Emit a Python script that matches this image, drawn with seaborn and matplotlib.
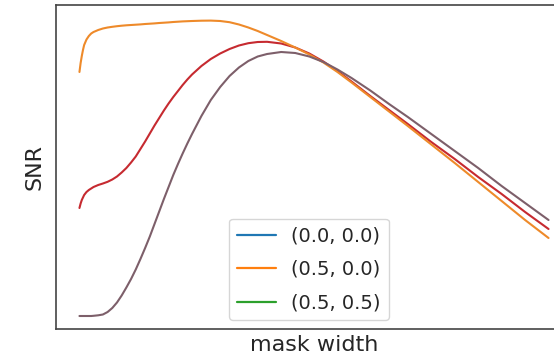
import numpy as np
import pandas as pd
import matplotlib
matplotlib.use("Agg")
import matplotlib.pyplot as plt
from matplotlib.lines import Line2D
import seaborn as sns

# mask width samples shared by all settings
mask_width = [0, 0.25, 0.5, 0.75, 1, 1.5, 2, 2.5, 3,
              4, 5, 6, 7, 8, 9, 10, 11, 12, 13, 14, 15, 16, 17, 18, 19, 20, 21, 22, 23, 24,
              26, 28, 30, 32, 34, 36, 38, 40,
              43, 46, 49, 52, 55, 58,
              62, 66, 70,
              75, 80, 85, 90, 95, 100]

settings = ["(0.0, 0.0)", "(0.5, 0.0)", "(0.5, 0.5)"]

snr_00 = [12.1, 12.55, 12.9, 13.15, 13.4, 13.7, 13.9, 14.05, 14.2,
          14.4, 14.55, 14.72, 14.95, 15.25, 15.65, 16.1, 16.65, 17.25, 18.0, 18.75,
          19.55, 20.35, 21.1, 21.85, 22.55, 23.2, 23.8, 24.4, 24.95, 25.45,
          26.3, 27.0, 27.55, 28.0, 28.35, 28.58, 28.7, 28.72,
          28.55, 28.15, 27.55, 26.75, 25.8, 24.75,
          23.3, 21.9, 20.5,
          18.7, 17.0, 15.2, 13.5, 11.7, 10.0]
snr_50 = [25.7, 26.6, 27.3, 27.9, 28.4, 28.95, 29.3, 29.55, 29.7,
          29.9, 30.05, 30.15, 30.22, 30.28, 30.33, 30.37, 30.4, 30.43, 30.46, 30.5,
          30.53, 30.56, 30.6, 30.63, 30.66, 30.7, 30.73, 30.76, 30.78, 30.8,
          30.83, 30.84, 30.8, 30.68, 30.45, 30.15, 29.8, 29.4,
          28.8, 28.15, 27.45, 26.65, 25.7, 24.65,
          23.2, 21.75, 20.3,
          18.45, 16.6, 14.7, 12.8, 10.9, 9.1]
snr_55 = [1.3, 1.3, 1.3, 1.3, 1.3, 1.3, 1.3, 1.3, 1.32,
          1.37, 1.45, 1.7, 2.1, 2.65, 3.35, 4.15, 5.0, 5.95, 7.0, 8.1,
          9.25, 10.5, 11.75, 13.0, 14.2, 15.4, 16.5, 17.55, 18.55, 19.5,
          21.3, 22.9, 24.2, 25.3, 26.15, 26.8, 27.25, 27.5,
          27.7, 27.6, 27.25, 26.7, 25.95, 25.1,
          23.85, 22.5, 21.2,
          19.5, 17.8, 16.1, 14.3, 12.6, 10.9]

df = pd.DataFrame({
    "mask width": mask_width * 3,
    "SNR": snr_00 + snr_50 + snr_55,
    "setting": np.repeat(settings, len(mask_width)),
})

curve_colors = {"(0.0, 0.0)": "#c62a30", "(0.5, 0.0)": "#ee8a2a", "(0.5, 0.5)": "#7d5f6a"}
legend_colors = ["#1f77b4", "#ff7f0e", "#2ca02c"]

sns.set_style("white")
plt.rcParams["font.family"] = ["DejaVu Sans"]

fig = plt.figure(figsize=(5.54, 3.61), dpi=100)
ax = fig.add_axes([56 / 554, (361 - 329) / 361, (572 - 56) / 554, (329 - 5) / 361])

sns.lineplot(data=df, x="mask width", y="SNR", hue="setting", hue_order=settings,
             palette=curve_colors, linewidth=1.5, legend=False, ax=ax, sort=False)

ax.set_xlim(-5, 105)
ax.set_ylim(0, 32.4)
ax.set_xticks([])
ax.set_yticks([])
ax.set_xlabel("mask width", fontsize=16, labelpad=4)
ax.set_ylabel("SNR", fontsize=16, labelpad=8)
for sp in ax.spines.values():
    sp.set_color("#444444")
    sp.set_linewidth(1.2)

handles = [Line2D([], [], color=c, lw=1.6) for c in legend_colors]
ax.legend(handles, settings, loc="lower center", bbox_to_anchor=(0.49, 0.0),
          fontsize=14, frameon=True, borderaxespad=0.45, labelspacing=0.75)

fig.savefig("out.png", dpi=100)
